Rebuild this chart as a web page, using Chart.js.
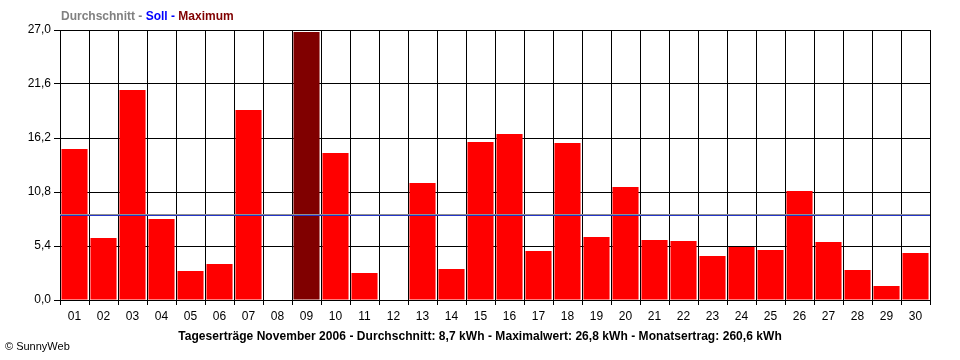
<!DOCTYPE html>
<html><head><meta charset="utf-8">
<script src="https://cdn.jsdelivr.net/npm/chart.js@4/dist/chart.umd.min.js"></script>
<style>
html,body{margin:0;padding:0;background:#fff;}
#wrap{position:relative;width:960px;height:360px;overflow:hidden;font-family:"Liberation Sans",Arial,sans-serif;}
canvas{position:absolute;left:0;top:0;}
#legend{position:absolute;left:61px;top:9px;font-size:12px;font-weight:bold;white-space:nowrap;}
#caption{position:absolute;left:0;width:960px;top:329px;text-align:center;font-size:12px;font-weight:bold;white-space:nowrap;letter-spacing:0.05px;}
#copy{position:absolute;left:5px;top:340px;font-size:11px;white-space:nowrap;}
</style></head>
<body><div id="wrap"><canvas id="c" width="960" height="360"></canvas>
<div id="legend"><span style="color:#808080">Durchschnitt - </span><span style="color:#0000ff">Soll - </span><span style="color:#800000">Maximum</span></div>
<div id="caption">Tageserträge November 2006 - Durchschnitt: 8,7 kWh - Maximalwert: 26,8 kWh - Monatsertrag: 260,6 kWh</div>
<div id="copy">© SunnyWeb</div></div>
<script>
const days = ['01','02','03','04','05','06','07','08','09','10','11','12','13','14','15','16','17','18','19','20','21','22','23','24','25','26','27','28','29','30'];
const yields = [15.1,6.2,21.0,8.1,2.9,3.6,19.0,0,26.8,14.7,2.7,0,11.7,3.1,15.8,16.6,4.9,15.7,6.3,11.3,6.0,5.9,4.4,5.3,5.0,10.9,5.8,3.0,1.4,4.7];
const average = [8.55, 8.55];
const target = [8.45, 8.45];
const yTicks = [0, 5.4, 10.8, 16.2, 21.6, 27];
const yTickLabels = ['0,0', '5,4', '10,8', '16,2', '21,6', '27,0'];

const maxVal = Math.max(...yields);
const barColors = yields.map(v => v === maxVal ? '#800000' : '#ff0000');
const font = {family: '"Liberation Sans", Arial, sans-serif', size: 12};

new Chart(document.getElementById('c'), {
  type: 'bar',
  data: {
    labels: days,
    datasets: [
      {type: 'bar', data: yields, backgroundColor: barColors, borderWidth: 0, grouped: false,
       barPercentage: 0.9, categoryPercentage: 1.0, order: 3},
      {type: 'line', xAxisID: 'x2', data: [{x: 0, y: target[0]}, {x: 30, y: target[1]}],
       borderColor: '#2436c8', borderWidth: 1, pointRadius: 0, order: 2},
      {type: 'line', xAxisID: 'x2', data: [{x: 0, y: average[0]}, {x: 30, y: average[1]}],
       borderColor: '#909090', borderWidth: 1, pointRadius: 0, order: 1}
    ]
  },
  options: {
    responsive: false, animation: false, devicePixelRatio: 1,
    layout: {padding: {left: 0, right: 30, top: 30, bottom: 0}},
    plugins: {legend: {display: false}, tooltip: {enabled: false}, title: {display: false}},
    scales: {
      x: {
        type: 'category', offset: true,
        grid: {display: true, offset: true, color: '#000', lineWidth: 1, tickLength: 5, drawOnChartArea: true},
        border: {display: true, color: '#000', width: 1},
        ticks: {color: '#000', font: font, padding: 4, maxRotation: 0, autoSkip: false},
        afterFit: s => { s.height = 60; }
      },
      x2: {type: 'linear', display: false, min: 0, max: 30, offset: false},
      y: {
        min: 0, max: 27,
        afterBuildTicks: s => { s.ticks = yTicks.map(v => ({value: v})); },
        grid: {color: '#000', lineWidth: 1, tickLength: 6},
        border: {display: true, color: '#000', width: 1},
        ticks: {color: '#000', font: font, padding: 3,
                callback: (v) => { const i = yTicks.indexOf(v); return i >= 0 ? yTickLabels[i] : ''; }},
        afterFit: s => { s.width = 60; }
      }
    }
  }
});
</script>
</body></html>
